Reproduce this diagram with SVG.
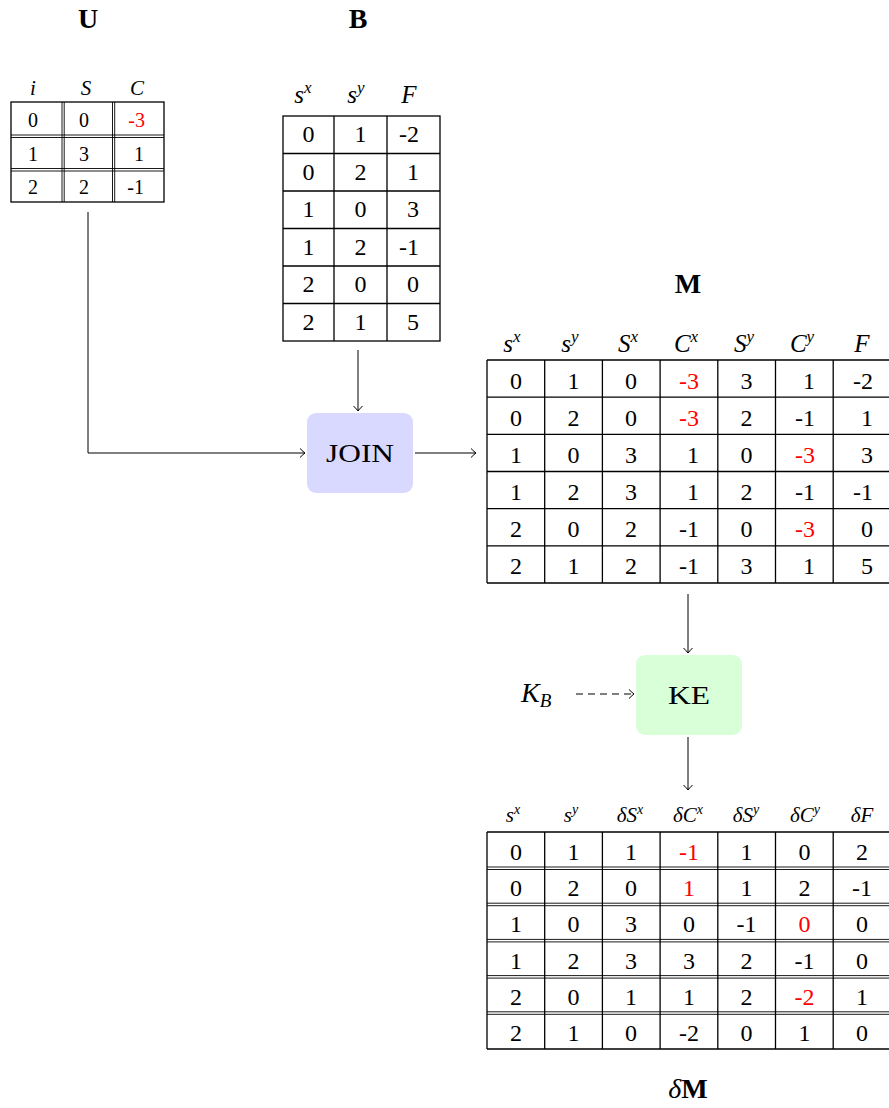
<svg xmlns="http://www.w3.org/2000/svg" width="889" height="1108" viewBox="0 0 889 1108">
<defs>
<style>
text{font-family:"Liberation Serif","Times New Roman",serif;fill:#000}
.t{font-weight:bold;font-size:28px;text-anchor:middle}
.c{font-size:24px;text-anchor:middle}
.r{font-size:24px;text-anchor:end}
.cs{font-size:20px;text-anchor:middle}
.rs{font-size:20px;text-anchor:end}
.h{font-size:25px;font-style:italic;text-anchor:middle}
.hs{font-size:21px;font-style:italic;text-anchor:middle}
.sup{font-size:17px}
.sups{font-size:14px}
.red{fill:#ff0000}
.g{fill:none;stroke:#000;stroke-width:1.3}
.gd{fill:none;stroke:#000;stroke-width:0.9}
.con{fill:none;stroke:#000;stroke-width:1}
.dash{stroke-dasharray:7,5}
</style>
<marker id="ah" viewBox="-6 -6 8 12" markerWidth="8" markerHeight="12" refX="0" refY="0" orient="auto" markerUnits="userSpaceOnUse">
<path d="M-5,-4.5 Q-1.5,-1 0,0 Q-1.5,1 -5,4.5" fill="none" stroke="#000" stroke-width="1"/>
</marker>
</defs>
<rect width="889" height="1108" fill="#fff"/>

<g id="U">
<text class="t" x="88" y="28">U</text>
<text class="hs" x="33" y="95">i</text>
<text class="hs" x="86" y="95">S</text>
<text class="hs" x="137" y="95">C</text>
<rect class="g" x="11" y="102" width="153" height="100"/>
<path class="gd" d="M11,135 H164 M11,137.5 H164 M11,168.5 H164 M11,171 H164 M62,102 V202 M64.2,102 V202 M112.5,102 V202 M114.7,102 V202"/>
<text class="cs" x="33" y="127">0</text><text class="cs" x="84" y="127">0</text><text class="rs red" x="145" y="127">-3</text>
<text class="cs" x="33" y="161">1</text><text class="cs" x="84" y="161">3</text><text class="rs" x="144" y="161">1</text>
<text class="cs" x="33" y="194">2</text><text class="cs" x="84" y="194">2</text><text class="rs" x="144" y="194">-1</text>
</g>

<g id="B">
<text class="t" x="358" y="28">B</text>
<text class="h" x="303" y="103">s<tspan class="sup" dy="-10">x</tspan></text>
<text class="h" x="356" y="103">s<tspan class="sup" dy="-10">y</tspan></text>
<text class="h" x="409" y="103">F</text>
<rect class="g" x="283" y="116" width="157" height="225"/>
<path class="g" d="M334,116 V341 M387,116 V341 M283,153.5 H440 M283,191 H440 M283,228.5 H440 M283,266 H440 M283,303.5 H440"/>
<text class="c" x="308.5" y="142">0</text><text class="c" x="360.5" y="142">1</text><text class="r" x="419" y="142">-2</text>
<text class="c" x="308.5" y="179.5">0</text><text class="c" x="360.5" y="179.5">2</text><text class="r" x="419" y="179.5">1</text>
<text class="c" x="308.5" y="217">1</text><text class="c" x="360.5" y="217">0</text><text class="r" x="419" y="217">3</text>
<text class="c" x="308.5" y="254.5">1</text><text class="c" x="360.5" y="254.5">2</text><text class="r" x="419" y="254.5">-1</text>
<text class="c" x="308.5" y="292">2</text><text class="c" x="360.5" y="292">0</text><text class="r" x="419" y="292">0</text>
<text class="c" x="308.5" y="329.5">2</text><text class="c" x="360.5" y="329.5">1</text><text class="r" x="419" y="329.5">5</text>
</g>

<g id="M">
<text class="t" x="688" y="293">M</text>
<text class="h" x="512" y="352">s<tspan class="sup" dy="-10">x</tspan></text>
<text class="h" x="570" y="352">s<tspan class="sup" dy="-10">y</tspan></text>
<text class="h" x="628" y="352">S<tspan class="sup" dy="-10">x</tspan></text>
<text class="h" x="686" y="352">C<tspan class="sup" dy="-10">x</tspan></text>
<text class="h" x="744" y="352">S<tspan class="sup" dy="-10">y</tspan></text>
<text class="h" x="802" y="352">C<tspan class="sup" dy="-10">y</tspan></text>
<text class="h" x="862" y="352">F</text>
<path class="g" d="M487,360 H891 M487,583 H891 M487,360 V583 M544.7,360 V583 M602.4,360 V583 M660.1,360 V583 M717.8,360 V583 M775.5,360 V583 M833.2,360 V583 M487,397.2 H891 M487,434.3 H891 M487,471.5 H891 M487,508.7 H891 M487,545.8 H891"/>
<g>
<text class="c" x="516" y="389">0</text><text class="c" x="573.5" y="389">1</text><text class="c" x="631" y="389">0</text><text class="r red" x="699" y="389">-3</text><text class="c" x="746.5" y="389">3</text><text class="r" x="815" y="389">1</text><text class="r" x="873" y="389">-2</text>
<text class="c" x="516" y="426">0</text><text class="c" x="573.5" y="426">2</text><text class="c" x="631" y="426">0</text><text class="r red" x="699" y="426">-3</text><text class="c" x="746.5" y="426">2</text><text class="r" x="815" y="426">-1</text><text class="r" x="873" y="426">1</text>
<text class="c" x="516" y="463">1</text><text class="c" x="573.5" y="463">0</text><text class="c" x="631" y="463">3</text><text class="r" x="699" y="463">1</text><text class="c" x="746.5" y="463">0</text><text class="r red" x="815" y="463">-3</text><text class="r" x="873" y="463">3</text>
<text class="c" x="516" y="500">1</text><text class="c" x="573.5" y="500">2</text><text class="c" x="631" y="500">3</text><text class="r" x="699" y="500">1</text><text class="c" x="746.5" y="500">2</text><text class="r" x="815" y="500">-1</text><text class="r" x="873" y="500">-1</text>
<text class="c" x="516" y="537">2</text><text class="c" x="573.5" y="537">0</text><text class="c" x="631" y="537">2</text><text class="r" x="699" y="537">-1</text><text class="c" x="746.5" y="537">0</text><text class="r red" x="815" y="537">-3</text><text class="r" x="873" y="537">0</text>
<text class="c" x="516" y="574">2</text><text class="c" x="573.5" y="574">1</text><text class="c" x="631" y="574">2</text><text class="r" x="699" y="574">-1</text><text class="c" x="746.5" y="574">3</text><text class="r" x="815" y="574">1</text><text class="r" x="873" y="574">5</text>
</g>
</g>

<g id="JOIN">
<rect x="307" y="413" width="106" height="80" rx="9" fill="#d9d9ff"/>
<text x="360" y="462" font-size="25" text-anchor="middle" textLength="68" lengthAdjust="spacingAndGlyphs">JOIN</text>
</g>

<g id="KE">
<rect x="636" y="655" width="106" height="80" rx="9" fill="#d9ffd9"/>
<text x="689" y="704" font-size="25" text-anchor="middle" textLength="42" lengthAdjust="spacingAndGlyphs">KE</text>
</g>

<g id="KB">
<text x="521" y="702" font-size="28" font-style="italic">K<tspan font-size="19" dy="5">B</tspan></text>
</g>

<g id="dM">
<text class="t" x="688" y="1098"><tspan font-weight="normal" font-style="italic">δ</tspan>M</text>
<text class="hs" x="513" y="822">s<tspan class="sups" dy="-8">x</tspan></text>
<text class="hs" x="571" y="822">s<tspan class="sups" dy="-8">y</tspan></text>
<text class="hs" x="630" y="822">δS<tspan class="sups" dy="-8">x</tspan></text>
<text class="hs" x="688" y="822">δC<tspan class="sups" dy="-8">x</tspan></text>
<text class="hs" x="746" y="822">δS<tspan class="sups" dy="-8">y</tspan></text>
<text class="hs" x="805" y="822">δC<tspan class="sups" dy="-8">y</tspan></text>
<text class="hs" x="862" y="822">δF</text>
<path class="g" d="M487,832 H891 M487,1049 H891 M487,832 V1049 M544.7,832 V1049 M602.4,832 V1049 M660.1,832 V1049 M717.8,832 V1049 M775.5,832 V1049 M833.2,832 V1049"/>
<path class="gd" d="M487,867 H891 M487,869.5 H891 M487,903.2 H891 M487,905.7 H891 M487,939.4 H891 M487,941.9 H891 M487,975.6 H891 M487,978.1 H891 M487,1011.8 H891 M487,1014.3 H891"/>
<g>
<text class="c" x="516" y="860">0</text><text class="c" x="573.5" y="860">1</text><text class="c" x="631" y="860">1</text><text class="c red" x="689" y="860">-1</text><text class="c" x="746.5" y="860">1</text><text class="c" x="804.5" y="860">0</text><text class="c" x="862" y="860">2</text>
<text class="c" x="516" y="896">0</text><text class="c" x="573.5" y="896">2</text><text class="c" x="631" y="896">0</text><text class="c red" x="689" y="896">1</text><text class="c" x="746.5" y="896">1</text><text class="c" x="804.5" y="896">2</text><text class="c" x="862" y="896">-1</text>
<text class="c" x="516" y="932">1</text><text class="c" x="573.5" y="932">0</text><text class="c" x="631" y="932">3</text><text class="c" x="689" y="932">0</text><text class="c" x="746.5" y="932">-1</text><text class="c red" x="804.5" y="932">0</text><text class="c" x="862" y="932">0</text>
<text class="c" x="516" y="969">1</text><text class="c" x="573.5" y="969">2</text><text class="c" x="631" y="969">3</text><text class="c" x="689" y="969">3</text><text class="c" x="746.5" y="969">2</text><text class="c" x="804.5" y="969">-1</text><text class="c" x="862" y="969">0</text>
<text class="c" x="516" y="1005">2</text><text class="c" x="573.5" y="1005">0</text><text class="c" x="631" y="1005">1</text><text class="c" x="689" y="1005">1</text><text class="c" x="746.5" y="1005">2</text><text class="c red" x="804.5" y="1005">-2</text><text class="c" x="862" y="1005">1</text>
<text class="c" x="516" y="1041">2</text><text class="c" x="573.5" y="1041">1</text><text class="c" x="631" y="1041">0</text><text class="c" x="689" y="1041">-2</text><text class="c" x="746.5" y="1041">0</text><text class="c" x="804.5" y="1041">1</text><text class="c" x="862" y="1041">0</text>
</g>
</g>

<g id="connectors">
<path class="con" d="M88,212 V453 H305" marker-end="url(#ah)"/>
<path class="con" d="M358,350 V411" marker-end="url(#ah)"/>
<path class="con" d="M415,453 H476" marker-end="url(#ah)"/>
<path class="con" d="M688,594 V653" marker-end="url(#ah)"/>
<path class="con" d="M688,737 V790" marker-end="url(#ah)"/>
<path class="con dash" d="M576,694 H634" marker-end="url(#ah)"/>
</g>
</svg>
